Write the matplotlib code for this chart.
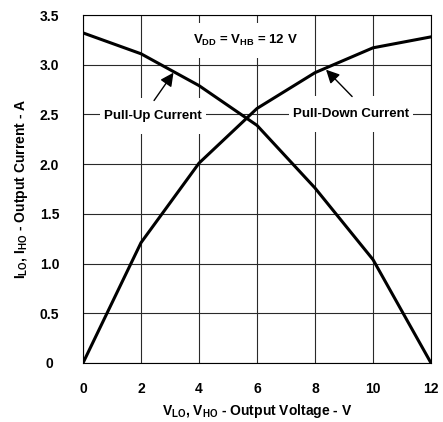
import matplotlib.pyplot as plt
from matplotlib.patches import Rectangle
from matplotlib.transforms import IdentityTransform

plt.rcParams['font.family'] = ['Liberation Sans', 'DejaVu Sans']
plt.rcParams['font.weight'] = 'bold'
plt.rcParams['mathtext.fontset'] = 'custom'
plt.rcParams['mathtext.rm'] = 'Liberation Sans:bold'
plt.rcParams['mathtext.default'] = 'rm'

# Data
voltage = [0, 2, 4, 6, 8, 10, 12]
pull_up = [3.32, 3.11, 2.79, 2.39, 1.76, 1.04, 0.0]
pull_down = [0.0, 1.21, 2.01, 2.56, 2.92, 3.17, 3.28]
xticks = [0, 2, 4, 6, 8, 10, 12]
yticks = [0, 0.5, 1.0, 1.5, 2.0, 2.5, 3.0, 3.5]
ytick_labels = ['0', '0.5', '1.0', '1.5', '2.0', '2.5', '3.0', '3.5']

fig = plt.figure(figsize=(4.43, 4.22), dpi=100)
ax = fig.add_axes([83 / 443, 1 - 363 / 422, 348 / 443, 348 / 422])

ax.plot(voltage, pull_up, color='black', lw=2.2, zorder=3)
ax.plot(voltage, pull_down, color='black', lw=2.2, zorder=3)

ax.set_xlim(0, 12)
ax.set_ylim(0, 3.5)
ax.set_xticks(xticks)
ax.set_yticks(yticks)
ax.set_yticklabels(ytick_labels)
ax.tick_params(length=0, labelsize=10)
ax.tick_params(axis='x', pad=14)
ax.tick_params(axis='y', pad=24)
for lab in ax.get_yticklabels():
    lab.set_horizontalalignment('center')
for lab in ax.get_xticklabels() + ax.get_yticklabels():
    lab.set_fontweight('bold')
ax.grid(True, color='#2a2a2a', lw=0.8, zorder=1)
for sp in ax.spines.values():
    sp.set_linewidth(0.8)

ax.set_xlabel('V$_{LO}$, V$_{HO}$ - Output Voltage - V', fontsize=10, fontweight='bold', labelpad=4)
ax.set_ylabel('I$_{LO}$, I$_{HO}$ - Output Current - A', fontsize=10, fontweight='bold', labelpad=7)

labels = [
    (ax.text(5.6, 3.24, 'V$_{DD}$ = V$_{HB}$ = 12 V', ha='center', va='center',
             fontsize=9.5, fontweight='bold', zorder=5), 8, 10),
    (ax.text(2.42, 2.48, 'Pull-Up Current', ha='center', va='center',
             fontsize=9.5, fontweight='bold', zorder=5), 4, 12),
    (ax.text(9.25, 2.5, 'Pull-Down Current', ha='center', va='center',
             fontsize=9.5, fontweight='bold', zorder=5), 4, 12),
]

arrow = dict(arrowstyle='-|>', color='black', lw=1.0, mutation_scale=20, shrinkA=0, shrinkB=0)
ax.annotate('', xy=(3.12, 2.92), xytext=(2.45, 2.64), arrowprops=arrow, zorder=6)
ax.annotate('', xy=(8.38, 2.95), xytext=(9.28, 2.68), arrowprops=arrow, zorder=6)

# white gaps in the grid behind the labels
fig.canvas.draw()
for t, px, py in labels:
    bb = t.get_window_extent()
    ax.add_patch(Rectangle((bb.x0 - px, bb.y0 - py), bb.width + 2 * px, bb.height + 2 * py,
                           transform=IdentityTransform(), facecolor='white',
                           edgecolor='none', zorder=2))

fig.savefig('out.png', dpi=100)
